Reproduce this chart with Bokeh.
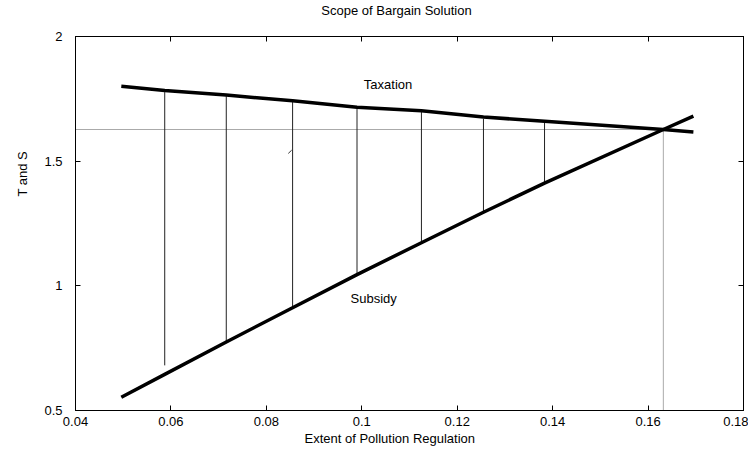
from bokeh.plotting import figure
from bokeh.models import Range1d, LinearAxis, FixedTicker, Label, NumeralTickFormatter, Title
from bokeh.embed import file_html
from bokeh.resources import INLINE

# ---- data ----
title_text = "Scope of Bargain Solution"
x_label_text = "Extent of Pollution Regulation"
y_label_text = "T and S"
taxation_label = "Taxation"
subsidy_label = "Subsidy"

curve_x = [0.0496, 0.0587, 0.0716, 0.0855, 0.0990, 0.1125, 0.1255, 0.1383, 0.1632, 0.1695]
taxation = [1.800, 1.783, 1.765, 1.742, 1.716, 1.702, 1.677, 1.660, 1.627, 1.617]
subsidy = [0.553, 0.645, 0.775, 0.912, 1.045, 1.173, 1.295, 1.412, 1.627, 1.681]

bar_x = [0.0587, 0.0716, 0.0855, 0.0990, 0.1125, 0.1255, 0.1383]
bar_top = [1.777, 1.761, 1.737, 1.709, 1.697, 1.670, 1.654]
bar_bottom = [0.681, 0.775, 0.912, 1.045, 1.173, 1.295, 1.412]

eq_x = 0.1632
eq_y = 1.627

mark_x = [0.0846, 0.0853]
mark_y = [1.531, 1.544]

x_ticks = [0.04, 0.06, 0.08, 0.10, 0.12, 0.14, 0.16, 0.18]
x_tick_labels = ["0.04", "0.06", "0.08", "0.1", "0.12", "0.14", "0.16", "0.18"]
y_ticks = [0.5, 1.0, 1.5, 2.0]
y_tick_labels = ["0.5", "1", "1.5", "2"]

x_min, x_max = 0.04, 0.18
y_min, y_max = 0.5, 2.0

taxation_pos = (0.1055, 1.808)
subsidy_pos = (0.1025, 0.950)

FONT = "Liberation Sans"
FS = "13px"

p = figure(frame_width=668, frame_height=374,
           min_border_left=74, min_border_right=5, min_border_top=36, min_border_bottom=40,
           x_range=Range1d(x_min, x_max), y_range=Range1d(y_min, y_max),
           output_backend="svg", toolbar_location=None,
           x_axis_location=None, y_axis_location=None)
p.background_fill_color = "white"
p.border_fill_color = "white"
p.outline_line_color = "black"
p.outline_line_width = 1
p.xgrid.visible = False
p.ygrid.visible = False


def style_axis(ax, ticks, labels, show_labels, standoff):
    ax.ticker = FixedTicker(ticks=ticks)
    ax.formatter = NumeralTickFormatter(format="0.[00]")
    ax.major_label_overrides = {t: l for t, l in zip(ticks, labels)}
    ax.major_tick_in = 5
    ax.major_tick_out = 0
    ax.minor_tick_in = 0
    ax.minor_tick_out = 0
    ax.major_tick_line_color = "black"
    ax.axis_line_color = "black"
    ax.major_label_text_font = FONT
    ax.major_label_text_font_size = FS
    ax.major_label_text_color = "black"
    ax.major_label_standoff = standoff
    if not show_labels:
        ax.major_label_text_alpha = 0.0
        ax.major_label_text_font_size = "0px"


xb = LinearAxis()
style_axis(xb, x_ticks, x_tick_labels, True, 6)
p.add_layout(xb, "below")
xt = LinearAxis()
style_axis(xt, x_ticks, x_tick_labels, False, 0)
p.add_layout(xt, "above")
yl = LinearAxis()
style_axis(yl, y_ticks, y_tick_labels, True, 13)
p.add_layout(yl, "left")
yr = LinearAxis()
style_axis(yr, y_ticks, y_tick_labels, False, 0)
p.add_layout(yr, "right")

# chart title placed in the top border panel (screen units relative to that panel)
p.add_layout(Label(x=321, y=26, x_units="screen", y_units="screen", text=title_text,
                   text_font=FONT, text_font_size=FS, text_align="center",
                   text_baseline="middle", text_color="black"), "above")

# axis titles as side titles so they can be offset along the axis
p.add_layout(Title(text=x_label_text, align="left", offset=229, text_font=FONT,
                   text_font_size=FS, text_font_style="normal", text_color="black",
                   standoff=0), "below")
p.add_layout(Title(text=y_label_text, align="left", offset=214, text_font=FONT,
                   text_font_size=FS, text_font_style="normal", text_color="black",
                   standoff=24), "left")

# dotted guide lines through the crossing point
p.line([x_min, eq_x], [eq_y, eq_y], line_color="#555555", line_width=1, line_dash="1 1")
p.line([eq_x, eq_x], [y_min, eq_y], line_color="#555555", line_width=1, line_dash="1 1")

# vertical lines between the curves
p.segment(x0=bar_x, y0=bar_bottom, x1=bar_x, y1=bar_top, line_color="#222222", line_width=1)

# small stray mark
p.line(mark_x, mark_y, line_color="#333333", line_width=1)

# main curves
p.line(curve_x, taxation, line_color="black", line_width=3.5)
p.line(curve_x, subsidy, line_color="black", line_width=3.5)

# curve labels
for txt, (lx, ly) in [(taxation_label, taxation_pos), (subsidy_label, subsidy_pos)]:
    p.add_layout(Label(x=lx, y=ly, text=txt, text_font=FONT, text_font_size=FS,
                       text_align="center", text_baseline="middle", text_color="black"))

open("out.html", "w").write(file_html(p, INLINE))
